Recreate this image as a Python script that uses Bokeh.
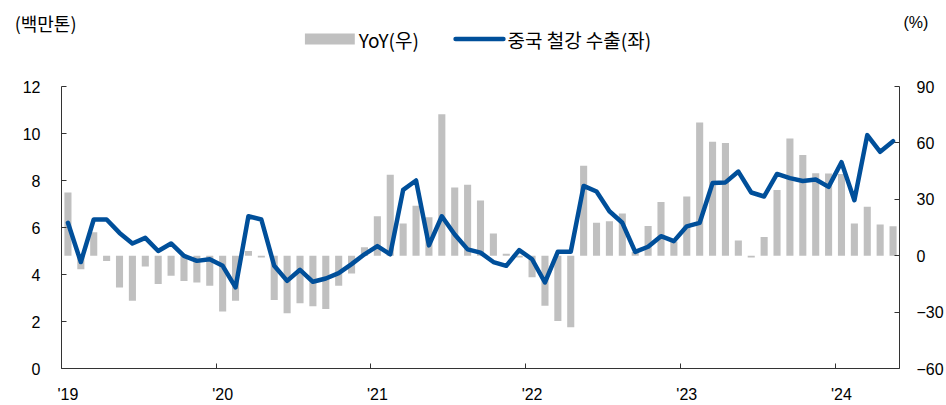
from bokeh.plotting import figure
from bokeh.models import Range1d, LinearAxis, FixedTicker, ColumnDataSource
from bokeh.layouts import column
from bokeh.core.properties import value
from bokeh.embed import file_html
from bokeh.resources import INLINE

# Monthly, Jan 2019 .. May 2024
year_labels = ["'19", "'20", "'21", "'22", "'23", "'24"]
exports = [6.2, 4.53, 6.34, 6.34, 5.77, 5.32, 5.56, 5.0, 5.32, 4.79, 4.58, 4.65,
           4.37, 3.45, 6.48, 6.34, 4.37, 3.73, 4.2, 3.69, 3.83, 4.06, 4.44, 4.86,
           5.21, 4.86, 7.6, 8.0, 5.24, 6.48, 5.7, 5.07, 4.93, 4.53, 4.37, 5.04,
           4.65, 3.66, 4.97, 4.97, 7.77, 7.53, 6.69, 6.2, 4.96, 5.18, 5.63, 5.42,
           6.05, 6.2, 7.89, 7.92, 8.38, 7.49, 7.32, 8.28, 8.1, 7.98, 8.04, 7.73,
           8.78, 7.16, 9.93, 9.22, 9.67]
yoy = [33.6, -7.2, 12.5, -2.8, -16.9, -23.9, -5.8, -15.1, -10.7, -13.4, -14.2, -16.0,
       -29.7, -23.9, 2.5, -1.0, -23.5, -30.6, -25.3, -26.9, -28.3, -16.0, -9.5, 4.5,
       21.0, 43.0, 17.1, 26.6, 20.5, 75.2, 36.3, 37.7, 29.3, 11.8, 1.0, -1.0,
       -11.5, -26.6, -34.8, -38.0, 47.8, 17.5, 18.3, 22.4, 2.0, 15.8, 28.6, 7.5,
       31.5, 70.8, 60.6, 60.0, 8.1, -1.0, 10.0, 35.0, 62.4, 53.6, 43.9, 43.7,
       43.5, 17.1, 26.0, 16.6, 15.7]
left_ticks = [0, 2, 4, 6, 8, 10, 12]
right_ticks = [-60, -30, 0, 30, 60, 90]
left_unit = "(백만톤)"
right_unit = "(%)"
legend_labels = ["YoY(우)", "중국 철강 수출(좌)"]

BAR_COLOR = "#C0C0C0"
LINE_COLOR = "#004F9A"
FONT = "Liberation Sans, 'Noto Sans CJK KR'"
KFONT = "'Noto Sans CJK KR', Liberation Sans"
AXIS_COLOR = "#333333"

W = 946
HH = 60
BL, BR = 61, 45          # left / right borders (frame spans window x 61..901)
UNIT_Y = 22

n = len(exports)
xs = [i + 0.5 for i in range(n)]
src = ColumnDataSource(dict(x=xs, exports=exports, yoy=yoy))

# ---------------- header: units and legend ----------------
h = figure(width=W, height=HH, output_backend="svg", toolbar_location=None,
           x_range=Range1d(BL, W - BR), y_range=Range1d(HH, 0),
           min_border_left=BL, min_border_right=BR, min_border_top=0, min_border_bottom=0,
           outline_line_color=None)
h.xaxis.visible = False
h.grid.visible = False


def label_only_axis(ax, ticks, overrides, font, size, standoff):
    ax.ticker = FixedTicker(ticks=ticks)
    if overrides:
        ax.major_label_overrides = overrides
    ax.major_tick_in = 0
    ax.major_tick_out = 0
    ax.minor_tick_line_color = None
    ax.major_tick_line_color = None
    ax.axis_line_color = None
    ax.major_label_standoff = standoff
    ax.major_label_text_font = font
    ax.major_label_text_font_size = size
    ax.major_label_text_color = "black"


label_only_axis(h.yaxis[0], [UNIT_Y], {UNIT_Y: left_unit}, KFONT, "18px", -15)
hr = LinearAxis()
label_only_axis(hr, [UNIT_Y], {UNIT_Y: right_unit}, FONT, "16px", 4)
h.add_layout(hr, "right")

h.quad(left=[305], right=[355], top=[33], bottom=[44], fill_color=BAR_COLOR, line_color=None)
h.text(x=[359], y=[39], text=[legend_labels[0]], text_font=value(KFONT),
       text_font_size="19px", text_baseline="middle", text_align="left", text_color="black")
h.line(x=[456, 504], y=[38.5, 38.5], line_color=LINE_COLOR, line_width=4.5, line_cap="round")
h.text(x=[508], y=[39], text=[legend_labels[1]], text_font=value(KFONT),
       text_font_size="19px", text_baseline="middle", text_align="left", text_color="black")

# ---------------- main chart ----------------
p = figure(width=W, height=405 - HH, output_backend="svg", toolbar_location=None,
           x_range=Range1d(0, n), y_range=Range1d(0, 12),
           min_border_left=BL, min_border_right=BR, min_border_top=26,
           min_border_bottom=35, outline_line_color=None)
p.extra_y_ranges = {"pct": Range1d(-60, 90)}
p.grid.visible = False

p.vbar(x="x", top="yoy", bottom=0, width=0.55, source=src,
       y_range_name="pct", fill_color=BAR_COLOR, line_color=None)
p.line(x="x", y="exports", source=src, line_color=LINE_COLOR,
       line_width=4.5, line_join="round", line_cap="round")

# bottom axis: labels at January centers, ticks at year boundaries
xa = p.xaxis[0]
label_pos = [12 * k + 0.5 for k in range(len(year_labels))]
xa.ticker = FixedTicker(ticks=label_pos,
                        minor_ticks=[12 * k for k in range(len(year_labels))])
xa.major_label_overrides = {pos: lab for pos, lab in zip(label_pos, year_labels)}
xa.major_tick_in = 0
xa.major_tick_out = 0
xa.minor_tick_in = 5
xa.minor_tick_out = 0
xa.minor_tick_line_color = AXIS_COLOR
xa.axis_line_color = AXIS_COLOR
xa.major_label_standoff = 17
xa.major_label_text_font = FONT
xa.major_label_text_font_size = "16px"
xa.major_label_text_color = "black"

ya = p.yaxis[0]
ya.ticker = FixedTicker(ticks=left_ticks)
ya.major_tick_in = 5
ya.major_tick_out = 0
ya.minor_tick_line_color = None
ya.axis_line_color = AXIS_COLOR
ya.major_tick_line_color = AXIS_COLOR
ya.major_label_standoff = 21
ya.major_label_text_font = FONT
ya.major_label_text_font_size = "16px"
ya.major_label_text_color = "black"

# right axis: line and inward ticks only
ra = LinearAxis(y_range_name="pct", ticker=FixedTicker(ticks=right_ticks))
ra.major_label_overrides = {t: "" for t in right_ticks}
ra.major_tick_in = 5
ra.major_tick_out = 0
ra.minor_tick_line_color = None
ra.axis_line_color = AXIS_COLOR
ra.major_tick_line_color = AXIS_COLOR
ra.major_label_standoff = 0
p.add_layout(ra, "right")

# right axis labels (percent)
rl = LinearAxis(y_range_name="pct")
label_only_axis(rl, right_ticks, None, FONT, "16px", 17)
p.add_layout(rl, "right")

layout = column(h, p, spacing=0)
open("out.html", "w").write(file_html(layout, INLINE))
